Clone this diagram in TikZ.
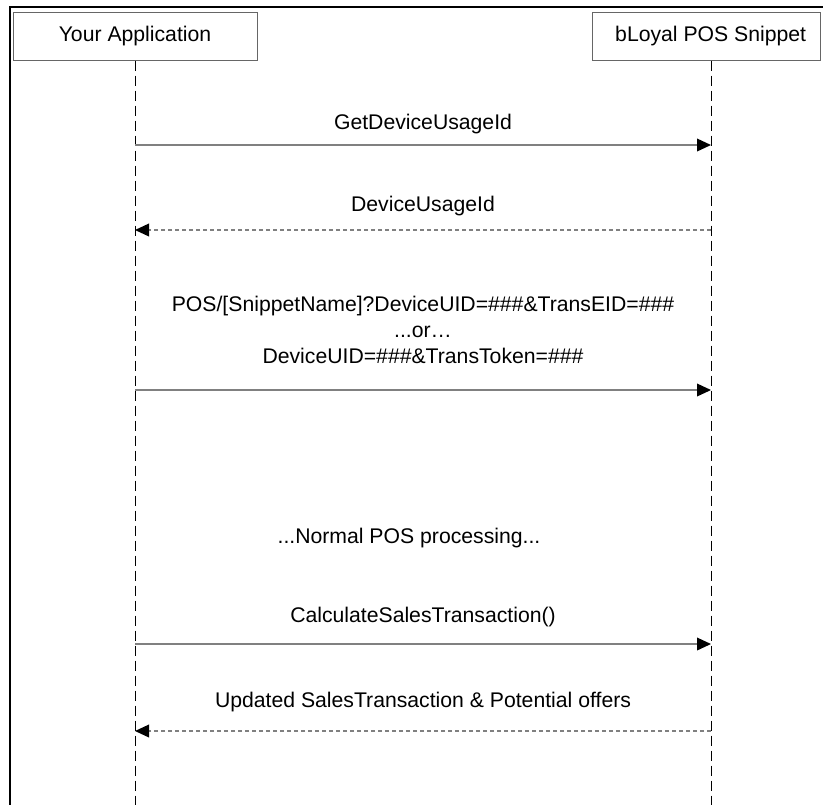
\documentclass[tikz,border=0pt]{standalone}
\usepackage{fontspec}
\setmainfont{Liberation Sans}
\usetikzlibrary{arrows.meta}
\begin{document}
\begin{tikzpicture}[x=0.75pt,y=-0.75pt,
  lbl/.style={font=\fontsize{15.9}{18.3}\selectfont, inner sep=0pt, anchor=base},
  actor/.style={draw=black!60, line width=0.75pt, fill=white, minimum height=36pt, inner sep=0pt, font=\fontsize{15.9}{18.3}\selectfont},
  life/.style={draw=black, line width=0.75pt, dash pattern=on 7.5pt off 3.75pt},
  msg/.style={draw=black!50, line width=1.1pt, -{Triangle[length=10.5pt,width=9.5pt,color=black]}},
  ret/.style={msg, dash pattern=on 3pt off 2.25pt},
]
\useasboundingbox (0,0) rectangle (823,804);
\fill[white] (0,0) rectangle (823,804);
\draw[line width=1.9pt] (10,806) -- (10,7) -- (825,7);

\node[actor, minimum width=183pt] (A) at (135,36) {Your Application};
\node[actor, minimum width=171pt] (B) at (706,36) {\hspace{7pt}bLoyal POS Snippet};

\coordinate (aend) at (135,806);
\coordinate (bend) at (711,806);
\draw[life] (A.south) -- (aend);
\draw[life] (B.south -| bend) -- (bend);

% message 1
\coordinate (a1) at (135,145); \coordinate (b1) at (711,145);
\draw[msg] (a1) -- (b1);
\node[lbl] (m1) at (423,129) {GetDeviceUsageId};

% message 2
\coordinate (a2) at (135,230); \coordinate (b2) at (711,230);
\draw[ret] (b2) -- (a2);
\node[lbl] (m2) at (423,211) {DeviceUsageId};

% message 3
\coordinate (a3) at (135,390); \coordinate (b3) at (711,390);
\draw[msg] (a3) -- (b3);
\node[lbl] (m3a) at (423,311) {POS/[SnippetName]?DeviceUID=\#\#\#\&TransEID=\#\#\#};
\node[lbl] (m3b) at (423,337) {...or…};
\node[lbl] (m3c) at (423,363) {DeviceUID=\#\#\#\&TransToken=\#\#\#};

\node[lbl] (note) at (409,543) {...Normal POS processing...};

% message 4
\coordinate (a4) at (135,644); \coordinate (b4) at (711,644);
\draw[msg] (a4) -- (b4);
\node[lbl] (m4) at (423,622) {CalculateSalesTransaction()};

% message 5
\coordinate (a5) at (135,731); \coordinate (b5) at (711,731);
\draw[ret] (b5) -- (a5);
\node[lbl] (m5) at (423,707) {Updated SalesTransaction \& Potential offers};
\end{tikzpicture}
\end{document}
